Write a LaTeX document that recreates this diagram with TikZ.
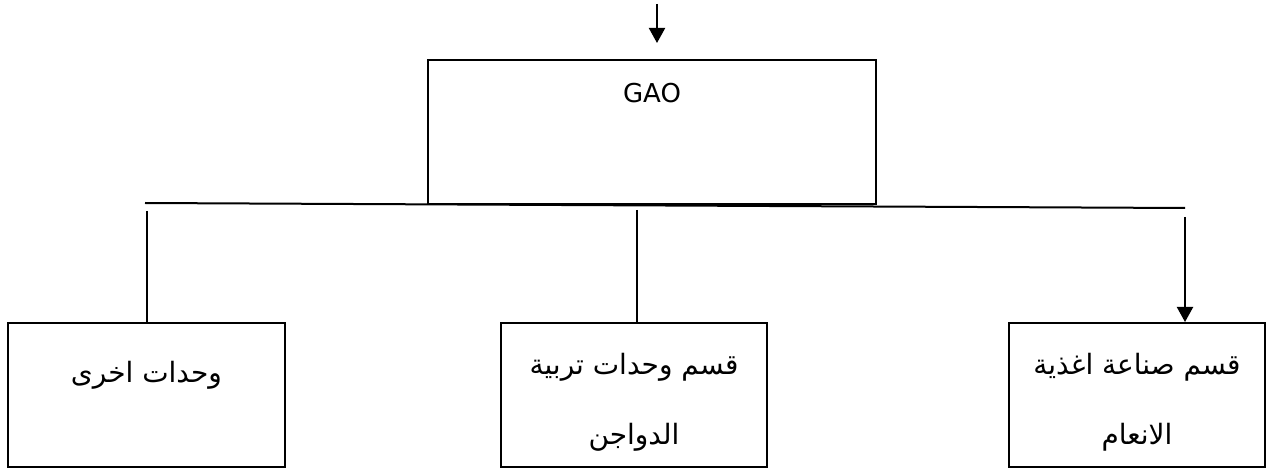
\documentclass[tikz,border=0pt]{standalone}
\usepackage{fontspec}
\usepackage{tikz}
\usetikzlibrary{arrows.meta, positioning}
\TeXXeTstate=1
\newfontfamily\arabicfont[Script=Arabic]{DejaVu Sans}
\newfontfamily\latinfont{DejaVu Sans}

\begin{document}
\begin{tikzpicture}[
  x=0.5pt, y=-0.5pt,
  unit/.style={draw, line width=1pt, minimum height=72pt, inner sep=0pt},
  lbl/.style={font=\arabicfont\fontsize{14}{17}\selectfont, align=center, inner sep=0pt},
  lnk/.style={line width=1pt},
  arr/.style={-{Triangle[length=7.5pt, width=8pt]}, line width=1pt},
]
  \useasboundingbox (0,0) rectangle (1269,470);

  % boxes
  \node[unit, minimum width=224pt] (gao) at (652,132) {};
  \node[unit, minimum width=138.5pt] (other) at (146.5,395) {};
  \node[unit, minimum width=133pt] (poultry) at (634,395) {};
  \node[unit, minimum width=128pt] (feed) at (1137,395) {};

  % texts
  \node[font=\latinfont\fontsize{13}{15}\selectfont] (gaoT) at (652,93) {GAO};
  \node[lbl] (otherT) at (146.5,375) {\beginR وحدات اخرى\endR};
  \node[lbl] (poultryT) at (634,402) {\beginR قسم وحدات تربية\endR\\[18pt]\beginR الدواجن\endR};
  \node[lbl] (feedT) at (1137,402) {\beginR قسم صناعة اغذية\endR\\[18pt]\beginR الانعام\endR};

  % bus and links
  \coordinate (in) at (657,4);
  \coordinate (inTip) at (657,43);
  \coordinate (busL) at (145,203);
  \coordinate (busR) at (1185,208);
  \coordinate (otherTop) at (147,211);
  \coordinate (poultryTop) at (637,210);
  \coordinate (feedTop) at (1185,217);

  \draw[arr] (in) -- (inTip);
  \draw[lnk] (busL) -- (busR);
  \draw[lnk] (otherTop) -- (otherTop |- other.north);
  \draw[lnk] (poultryTop) -- (poultryTop |- poultry.north);
  \draw[arr] (feedTop) -- (feedTop |- feed.north);
\end{tikzpicture}
\end{document}
